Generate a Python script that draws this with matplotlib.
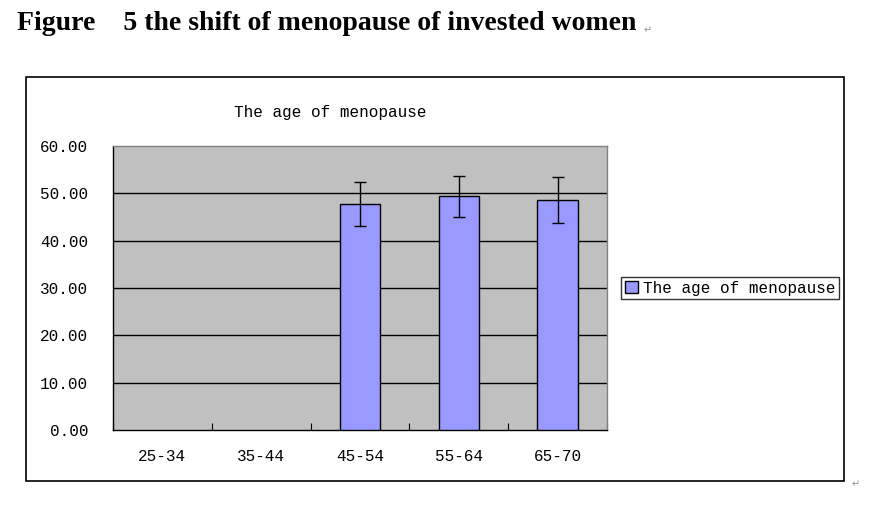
import numpy as np
import matplotlib
matplotlib.use("Agg")
import matplotlib.pyplot as plt
from matplotlib.patches import Rectangle

categories = ["25-34", "35-44", "45-54", "55-64", "65-70"]
values = [np.nan, np.nan, 47.8, 49.4, 48.6]
errors = [np.nan, np.nan, 4.6, 4.3, 4.8]
yticks = [0, 10, 20, 30, 40, 50, 60]
series_name = "The age of menopause"

W, H = 888, 522
fig = plt.figure(figsize=(W / 100, H / 100), dpi=100)
fig.patch.set_facecolor("white")

mono = ["Liberation Mono", "DejaVu Sans Mono"]

# outer chart frame
fig.patches.append(Rectangle((26 / W, 1 - 481 / H), (844 - 26) / W, (481 - 77) / H,
                             transform=fig.transFigure, fill=False,
                             edgecolor="black", linewidth=1.2))

ax = fig.add_axes([113 / W, 1 - 430 / H, (607 - 113) / W, (430 - 146) / H])
ax.set_facecolor("#c0c0c0")
x = np.arange(len(categories))
ax.bar(x, values, width=0.41, color="#9999ff", edgecolor="black", linewidth=1,
       zorder=3, label=series_name)
ax.errorbar(x, values, yerr=errors, fmt="none", ecolor="black", elinewidth=1,
            capsize=4, capthick=1, zorder=4)

ax.set_xlim(-0.5, len(categories) - 0.5)
ax.set_ylim(0, 60)
ax.set_yticks(yticks)
ax.set_yticklabels([f"{v:.2f}" for v in yticks], fontfamily=mono, fontsize=11.5)
ax.tick_params(axis="y", length=0, pad=18)
for v in yticks[1:-1]:
    ax.axhline(v, color="black", linewidth=1, zorder=1)

ax.set_xticks(np.arange(len(categories) + 1) - 0.5)
ax.set_xticklabels([])
ax.tick_params(axis="x", which="major", direction="in", length=5, color="black")
ax.set_xticks(x, minor=True)
ax.set_xticklabels(categories, minor=True, fontfamily=mono, fontsize=11.5)
ax.tick_params(axis="x", which="minor", length=0, pad=14)

for s in ["left", "bottom"]:
    ax.spines[s].set_color("black")
    ax.spines[s].set_linewidth(1)
for s in ["top", "right"]:
    ax.spines[s].set_color("#808080")
    ax.spines[s].set_linewidth(1)

fig.text(330 / W, 1 - 113 / H, series_name, ha="center", va="center",
         fontfamily=mono, fontsize=11.5)

leg = fig.legend(loc="center", bbox_to_anchor=(730 / W, 1 - 288 / H),
                 prop={"family": mono, "size": 11.5}, frameon=True, fancybox=False,
                 handlelength=0.8, handleheight=0.8, handletextpad=0.3,
                 borderpad=0.25, borderaxespad=0)
leg.get_frame().set_edgecolor("black")
leg.get_frame().set_linewidth(1)

fig.text(17 / W, 1 - 23 / H, "Figure    5 the shift of menopause of invested women",
         ha="left", va="center", fontfamily="Liberation Serif", fontweight="bold",
         fontsize=20)
fig.text(648 / W, 1 - 30 / H, "\u21b5", ha="center", va="center", fontsize=7, color="#909090")
fig.text(856 / W, 1 - 484 / H, "\u21b5", ha="center", va="center", fontsize=7, color="#909090")

fig.savefig("out.png", dpi=100)
